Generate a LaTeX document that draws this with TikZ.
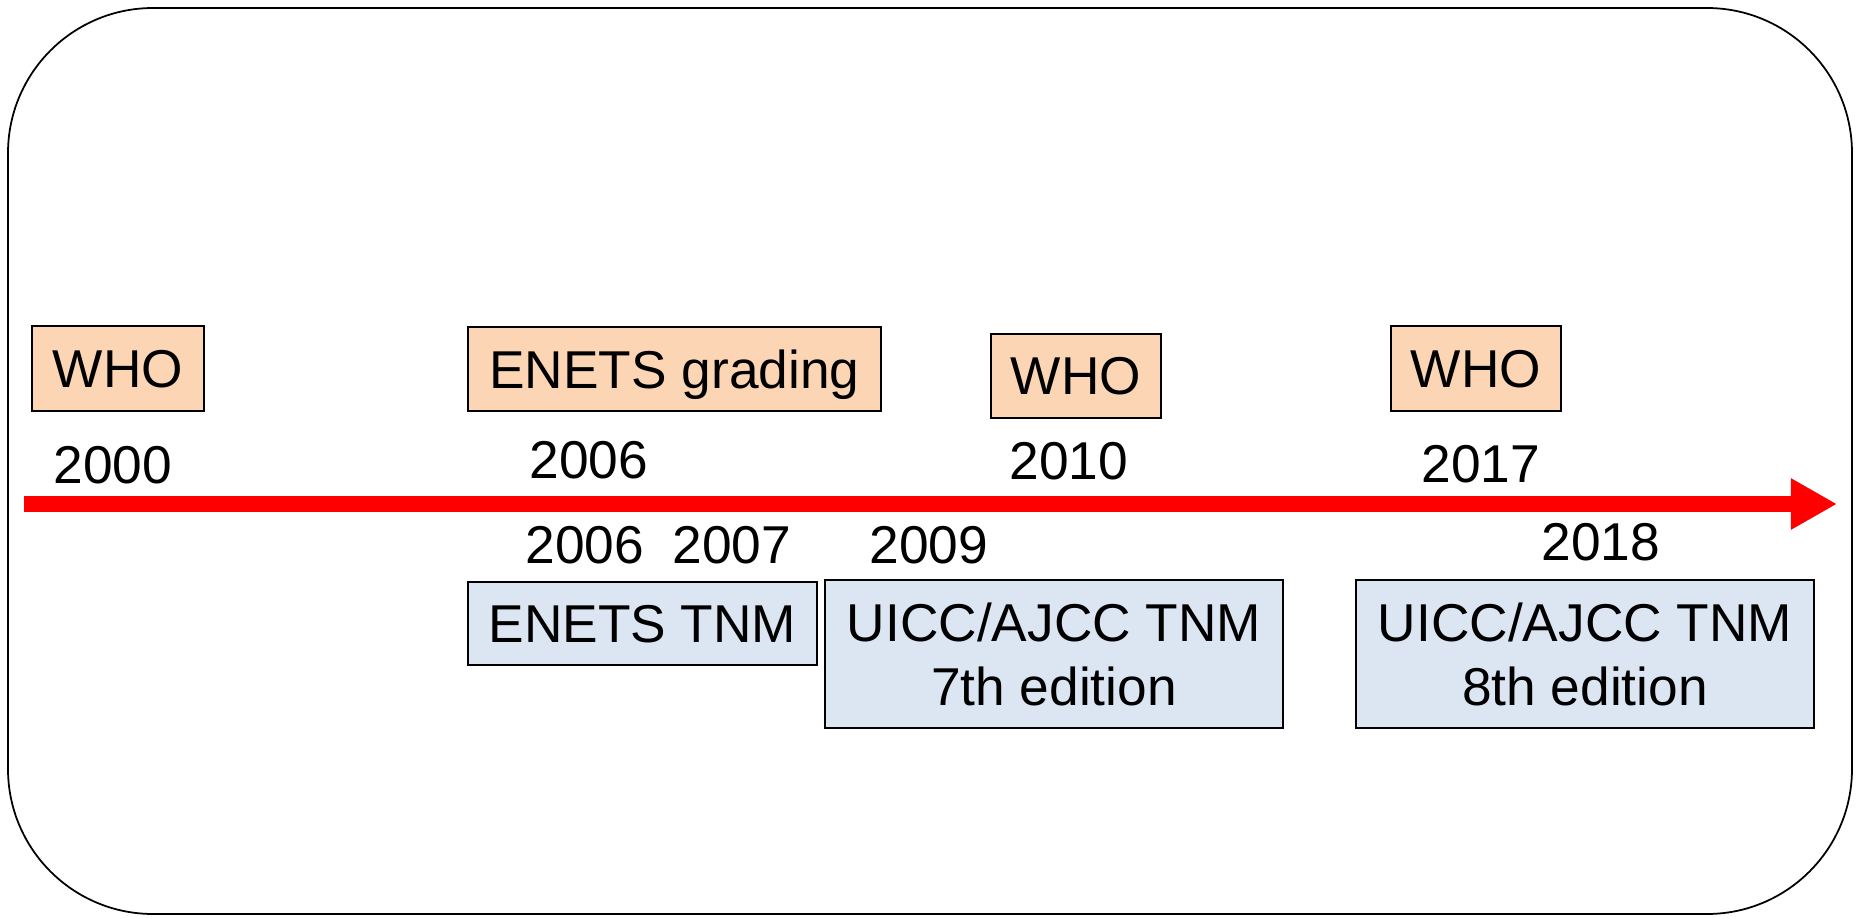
\documentclass[tikz,border=0pt]{standalone}
\usepackage{fontspec}
\setmainfont{Liberation Sans}
\usepackage{xcolor}
\usepackage{tikz}
\usetikzlibrary{arrows.meta}
\definecolor{peach}{RGB}{252,213,181}
\definecolor{paleblue}{RGB}{220,230,242}

\begin{document}
\begin{tikzpicture}[x=0.01cm,y=-0.01cm,
  font=\fontsize{15.15pt}{18.2pt}\selectfont,
  whobox/.style={draw,fill=peach,line width=0.6pt,inner sep=0pt,text depth=0pt},
  tnmbox/.style={draw,fill=paleblue,line width=0.6pt,inner sep=0pt,align=center,text depth=0pt},
  yr/.style={anchor=base,inner sep=0pt}]
  \useasboundingbox (0,0) rectangle (1859,918);
  \draw[line width=0.5pt,rounded corners=1.45cm] (8,8) rectangle (1852,914);
  \coordinate (tlstart) at (24,504);
  \coordinate (tlend) at (1837,504);
  \draw[red,line width=0.16cm,-{Triangle[length=0.46cm,width=0.48cm]}] (tlstart) -- (tlend);
  \node[whobox,minimum width=1.72cm,minimum height=0.85cm] (who2000) at (118,368.5) {WHO};
  \node[whobox,minimum width=4.13cm,minimum height=0.84cm] (enetsgr) at (674.5,369) {ENETS grading};
  \node[whobox,minimum width=1.70cm,minimum height=0.84cm] (who2010) at (1076,376) {WHO};
  \node[whobox,minimum width=1.70cm,minimum height=0.85cm] (who2017) at (1476,368.5) {WHO};
  \node[tnmbox,minimum width=3.49cm,minimum height=0.83cm] (enetstnm) at (642.5,623.5) {ENETS TNM};
  \node[tnmbox,minimum width=4.58cm,minimum height=1.48cm] (uicc7) at (1054,654) {UICC/AJCC TNM\\7th edition};
  \node[tnmbox,minimum width=4.58cm,minimum height=1.48cm] (uicc8) at (1585,654) {UICC/AJCC TNM\\8th edition};
  \node[yr] (y2000) at (113,483) {2000};
  \node[yr] (y2006a) at (589,478) {2006};
  \node[yr] (y2010) at (1069,479) {2010};
  \node[yr] (y2017) at (1481,482) {2017};
  \node[yr] (y2006b) at (585,563) {2006};
  \node[yr] (y2007) at (732,563) {2007};
  \node[yr] (y2009) at (929,563) {2009};
  \node[yr] (y2018) at (1601,560) {2018};
\end{tikzpicture}
\end{document}
